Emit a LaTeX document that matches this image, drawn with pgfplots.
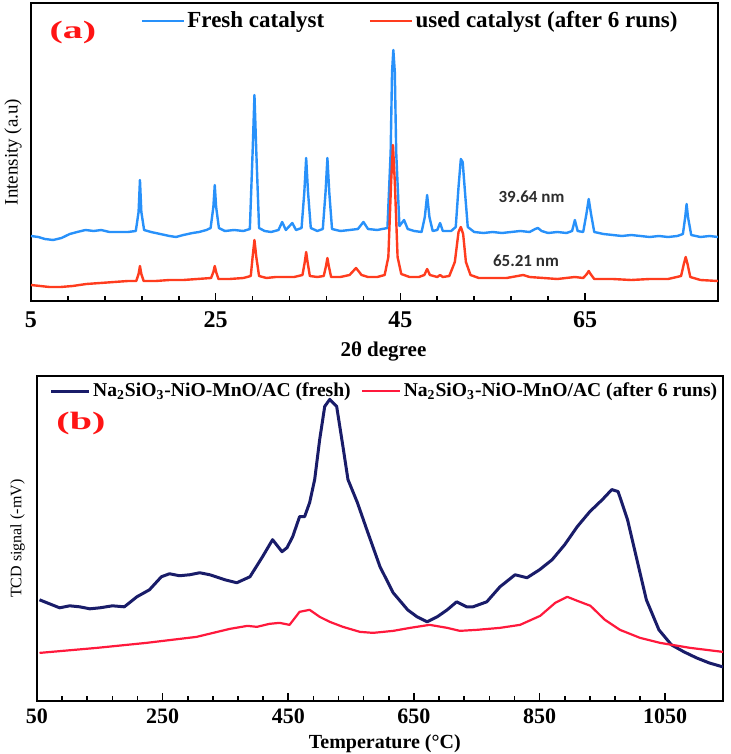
\documentclass[border=0pt]{standalone}
\usepackage{fontspec}
\setmainfont{Liberation Serif}
\newfontfamily\labfont[FakeStretch=1.6]{Liberation Serif}
\newfontfamily\calfont{Carlito}
\usepackage{pgfplots}
\pgfplotsset{compat=1.18}
\definecolor{xblue}{RGB}{40,145,250}
\definecolor{xred}{RGB}{255,60,30}
\definecolor{tnavy}{RGB}{25,28,105}
\definecolor{tred}{RGB}{255,25,60}
\definecolor{labred}{RGB}{255,20,20}
\definecolor{annot}{RGB}{45,45,45}

\pgfplotstableread{
x y
5.0 66
5.8 65
6.5 63
7.4 62
8.3 64
9.2 68
10.0 70
10.9 72
11.8 71
12.6 72
13.5 70
14.5 70
15.5 70
16.35 71
16.65 90
16.8 122
16.95 90
17.25 72
18.0 70
19.0 68
20.0 66
20.7 65
21.5 67
22.5 69
23.2 70
24.0 72
24.45 74
24.75 95
24.9 117
25.05 95
25.35 74
26.0 71
27.0 72
28.0 71
28.7 73
29.0 150
29.2 207
29.4 150
29.7 74
30.3 71
31.0 70
31.8 72
32.2 80
32.6 72
33.3 79
33.7 72
34.3 74
34.6 110
34.8 144
35.0 110
35.3 74
36.0 71
36.6 73
36.9 110
37.1 144
37.3 110
37.6 73
38.5 71
39.5 72
40.4 73
41.0 80
41.5 73
42.5 72
43.6 74
43.95 150
44.1 230
44.24 252
44.4 230
44.55 150
44.9 76
45.4 82
45.8 73
46.5 71
47.3 70
47.65 85
47.9 107
48.15 85
48.5 71
49.0 72
49.3 79
49.6 71
50.5 71
51.0 75
51.3 115
51.55 143
51.75 140
52.0 110
52.3 75
53.0 70
54.0 69
55.0 70
56.0 69
57.0 70
58.0 71
59.0 70
59.6 73
59.9 74
60.3 71
61.0 69
62.0 70
63.0 69
63.6 71
63.9 82
64.2 71
64.8 70
65.15 88
65.4 103
65.65 88
66.0 70
67.0 68
68.0 67
69.0 66
70.0 67
71.0 66
72.0 65
73.0 66
74.0 65
75.0 66
75.6 68
75.85 85
76.0 98
76.15 85
76.5 67
77.5 65
78.5 66
79.4 65
}\fresh

\pgfplotstableread{
x y
5.0 17
6.0 16
7.0 15
8.2 15
9.5 16
11.0 18
12.5 19
14.0 20
15.5 21
16.4 21
16.65 28
16.8 36
16.95 28
17.2 21
18.5 21
20.0 22
21.5 22
23.0 23
24.5 24
24.75 30
24.9 36
25.05 30
25.3 23
26.5 23
28.0 24
28.8 26
29.0 45
29.2 62
29.4 45
29.7 26
30.5 24
31.5 25
32.5 25
33.5 25
34.4 27
34.65 40
34.8 50
34.95 40
35.2 26
36.0 25
36.7 26
36.95 36
37.1 44
37.25 36
37.5 25
38.5 25
39.5 27
40.2 34
40.8 27
41.5 25
42.5 25
43.3 27
43.7 45
44.0 120
44.2 157
44.4 120
44.7 45
45.1 28
46.0 25
47.0 25
47.6 27
47.9 33
48.2 27
49.0 25
49.3 27
49.6 25
50.3 26
50.9 40
51.3 70
51.55 75
51.8 68
52.1 40
52.6 27
53.5 24
55.0 24
56.5 24
58.3 27
59.0 25
60.5 24
62.0 23
63.9 25
64.8 24
65.2 28
65.4 31
65.6 28
66.0 23
68.0 23
70.0 22
72.0 23
74.0 23
75.4 26
75.7 38
75.9 45
76.1 38
76.4 25
77.5 22
79.4 21
}\used

\pgfplotstableread{
x y
54 104
70 100
86 96
102 98
118 97
134 95
150 96
170 98
189 97
209 107
229 114
248 127
261 130
277 128
293 129
309 131
325 129
349 124
368 121
389 127
409 147
425 164
440 152
448 156
457 167
468 187
476 187
484 201
492 224
500 264
508 297
516 304
527 297
537 257
545 224
560 201
575 174
596 137
617 111
640 94
655 87
671 82
687 87
703 94
718 102
734 97
744 97
766 102
787 117
811 129
830 126
850 134
870 144
890 159
910 177
930 192
950 204
965 214
975 212
990 184
1005 144
1020 104
1040 74
1060 59
1080 52
1100 46
1120 41
1142 37
}\tprfresh

\pgfplotstableread{
x y
54 51
145 56
224 61
304 67
357 75
385 78
400 77
420 80
436 81
452 79
468 92
484 94
500 87
516 82
537 77
564 72
585 71
617 73
644 76
675 79
703 76
723 73
750 74
787 76
819 79
851 88
875 101
894 107
910 103
931 98
954 84
978 74
1010 66
1042 61
1090 56
1142 52
}\tprused

\pgfplotsset{
  myax/.style={
    scale only axis,
    axis line style={line width=1.1pt},
    ytick=\empty,
    xtick pos=bottom,
    tick align=inside,
    major tick length=4pt,
    minor tick length=2.5pt,
    every tick/.style={black, line width=0.8pt},
    minor x tick num=4,
    every axis plot/.append style={line join=round},
    legend style={draw=none, fill=none, legend columns=2, inner sep=0pt,
      nodes={inner sep=1.2pt}},
  }
}

\begin{document}
\begin{tikzpicture}
\path[use as bounding box] (0,0) rectangle (365pt,-377pt);

\begin{axis}[myax,
  at={(15.5pt,-150.5pt)}, anchor=south west,
  width=343.5pt, height=149pt,
  xmin=5, xmax=79.4, ymin=1, ymax=299,
  xtick={5,25,45,65}, xticklabels={5,25,45,65},
  xticklabel style={font=\fontsize{12}{12}\selectfont\bfseries, yshift=-2pt},
  xlabel={2θ degree},
  xlabel style={font=\fontsize{10.5}{11}\selectfont\bfseries, at={(axis description cs:0.513,-0.17)}, anchor=center},
  ylabel={Intensity (a.u)},
  ylabel style={font=\fontsize{9.5}{10}\selectfont, inner sep=0pt, at={(axis description cs:-0.013,0.5)}, anchor=south},
  legend style={at={(0.159,0.94)}, anchor=west,
    font=\fontsize{11.5}{12}\selectfont\bfseries,
    /tikz/every even column/.append style={column sep=21pt}},
  legend image code/.code={\draw[#1] (0pt,0pt) -- (21pt,0pt);},
]
\addplot[xblue, line width=1.2pt] table[x=x,y=y] {\fresh};
\addlegendentry{Fresh catalyst}
\addplot[xred, line width=1.2pt] table[x=x,y=y] {\used};
\addlegendentry{used catalyst (after 6 runs)}
\node[font=\calfont\bfseries\fontsize{8.5}{9}\selectfont, text=annot] at (axis cs:59.2,105) {39.64 nm};
\node[font=\calfont\bfseries\fontsize{8.5}{9}\selectfont, text=annot] at (axis cs:58.6,41) {65.21 nm};
\node[font=\labfont\bfseries\fontsize{12.5}{12.5}\selectfont, text=labred] at (axis description cs:0.061,0.9) {(a)};
\end{axis}

\begin{axis}[myax,
  at={(18.5pt,-350.5pt)}, anchor=south west,
  width=343pt, height=162pt,
  xmin=50, xmax=1142, ymin=3, ymax=327,
  xtick={50,250,450,650,850,1050}, xticklabels={50,250,450,650,850,1050},
  xticklabel style={font=\fontsize{11}{11}\selectfont\bfseries, yshift=-2.5pt, inner sep=1pt},
  xlabel={Temperature (°C)},
  xlabel style={font=\fontsize{10}{10}\selectfont\bfseries, inner sep=0pt, at={(axis description cs:0.507,-0.131)}, anchor=center},
  ylabel={TCD signal (-mV)},
  ylabel style={font=\fontsize{8}{9}\selectfont, inner sep=0pt, at={(axis description cs:-0.017,0.5)}, anchor=south},
  legend style={at={(0.018,0.954)}, anchor=west,
    font=\fontsize{9.8}{11}\selectfont\bfseries,
    /tikz/every even column/.append style={column sep=4pt}},
  legend image code/.code={\draw[#1] (0pt,0pt) -- (19pt,0pt);},
]
\addplot[tnavy, line width=1.5pt] table[x=x,y=y] {\tprfresh};
\addlegendentry{Na\textsubscript{2}SiO\textsubscript{3}-NiO-MnO/AC (fresh)}
\addplot[tred, line width=1.1pt] table[x=x,y=y] {\tprused};
\addlegendentry{Na\textsubscript{2}SiO\textsubscript{3}-NiO-MnO/AC (after 6 runs)}
\node[font=\labfont\bfseries\fontsize{12.5}{12.5}\selectfont, text=labred] at (axis description cs:0.064,0.855) {(b)};
\end{axis}
\end{tikzpicture}
\end{document}
